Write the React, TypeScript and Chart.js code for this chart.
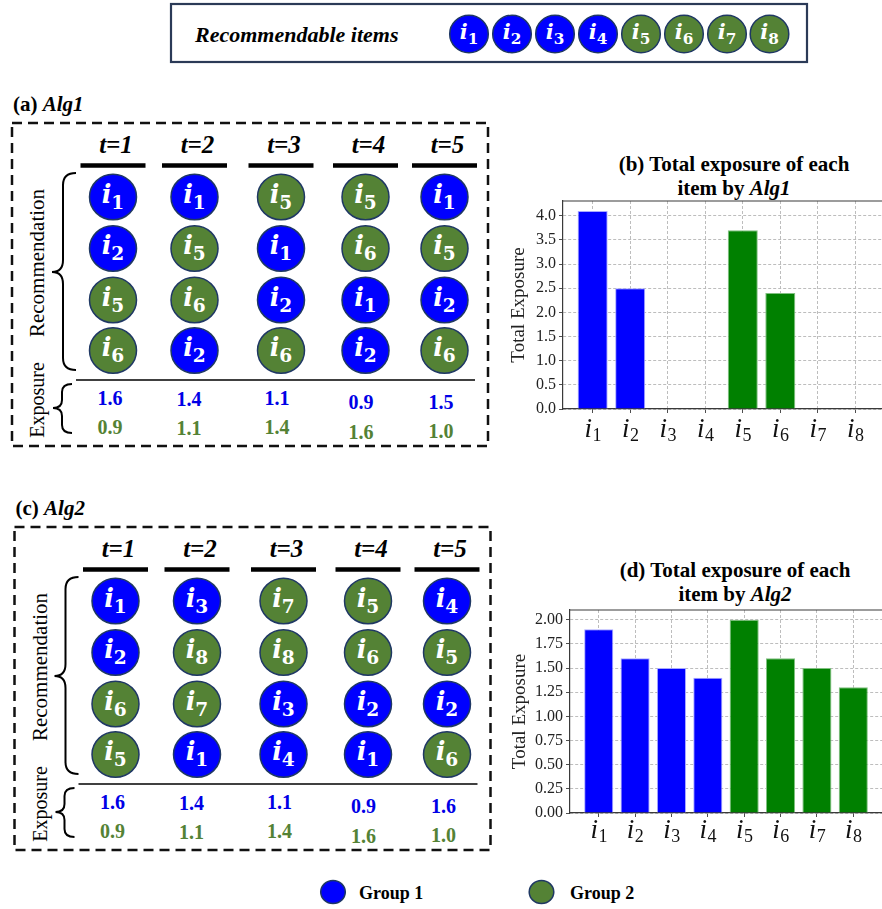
import React, { useEffect, useRef } from 'react';
import { Chart, registerables } from 'chart.js';

Chart.register(...registerables);

// ---- data -------------------------------------------------------------
const ITEM_IDS = [1, 2, 3, 4, 5, 6, 7, 8];
const GROUP_OF_ITEM = [1, 1, 1, 1, 2, 2, 2, 2];
const STEPS = ['t=1', 't=2', 't=3', 't=4', 't=5'];

// recommended slates per round (top to bottom)
const ALG1_SLATES = [[1, 2, 5, 6], [1, 5, 6, 2], [5, 1, 2, 6], [5, 6, 1, 2], [1, 5, 2, 6]];
const ALG1_GROUP1_EXPOSURE = [1.6, 1.4, 1.1, 0.9, 1.5];
const ALG1_GROUP2_EXPOSURE = [0.9, 1.1, 1.4, 1.6, 1.0];

const ALG2_SLATES = [[1, 2, 6, 5], [3, 8, 7, 1], [7, 8, 3, 4], [5, 6, 2, 1], [4, 5, 2, 6]];
const ALG2_GROUP1_EXPOSURE = [1.6, 1.4, 1.1, 0.9, 1.6];
const ALG2_GROUP2_EXPOSURE = [0.9, 1.1, 1.4, 1.6, 1.0];

// total exposure per item
const ALG1_TOTAL = [4.1, 2.5, 0, 0, 3.7, 2.4, 0, 0];
const ALG2_TOTAL = [1.9, 1.6, 1.5, 1.4, 2.0, 1.6, 1.5, 1.3];
const ALG1_Y_TICKS = [0, 0.5, 1.0, 1.5, 2.0, 2.5, 3.0, 3.5, 4.0];
const ALG2_Y_TICKS = [0, 0.25, 0.5, 0.75, 1.0, 1.25, 1.5, 1.75, 2.0];

// ---- styling ----------------------------------------------------------
const BLUE_FILL = '#0000ff';
const GREEN_FILL = '#548235';
const RING = '#1f3864';
const BLUE_TEXT = '#0000e6';
const GREEN_TEXT = '#548235';
const BAR_BLUE = '#0000ff';
const BAR_GREEN = '#008000';
const SERIF = "'Liberation Serif', 'Times New Roman', serif";
const BADGE_FONT = "'DejaVu Serif', serif";

function Badge({ cx, cy, r, item }: { cx: number; cy: number; r: number; item: number }) {
  const fill = GROUP_OF_ITEM[item - 1] === 1 ? BLUE_FILL : GREEN_FILL;
  const k = r / 24;
  return (
    <g>
      <ellipse cx={cx} cy={cy} rx={r} ry={r * 0.97} fill={fill} stroke={RING} strokeWidth={1.5} />
      <text x={cx} y={cy + 6 * k} textAnchor="middle" fill="#fff" fontFamily={BADGE_FONT} fontWeight="bold">
        <tspan fontStyle="italic" fontSize={26 * k}>i</tspan>
        <tspan fontSize={19 * k} dy={6 * k}>{item}</tspan>
      </text>
    </g>
  );
}

function bracePath(endX: number, spineX: number, tipX: number, top: number, tipY: number, bottom: number) {
  const r = Math.min(12, (tipY - top) / 3);
  return `M${endX},${top} Q${spineX},${top} ${spineX},${top + r} L${spineX},${tipY - r} Q${spineX},${tipY} ${tipX},${tipY} ` +
    `Q${spineX},${tipY} ${spineX},${tipY + r} L${spineX},${bottom - r} Q${spineX},${bottom} ${endX},${bottom}`;
}

// one "(x) AlgN" schedule panel; dx/dy shift the whole block
function SchedulePanel({ dx, dy, tag, alg, slates, g1, g2 }: {
  dx: number; dy: number; tag: string; alg: string; slates: number[][]; g1: number[]; g2: number[];
}) {
  const colX = [113, 194.5, 281, 365.5, 444.5];
  const rowY = [197, 248.5, 300, 350.5];
  const valueX = [110, 189, 277, 361, 441];
  const blueY = [398, 399, 398, 402, 402];
  const greenY = [427, 428, 427, 432, 431];
  return (
    <g transform={`translate(${dx},${dy})`}>
      <text x={13} y={111} fontFamily={SERIF} fontSize={21} fontWeight="bold">
        {`(${tag}) `}
        <tspan fontStyle="italic">{alg}</tspan>
      </text>
      <rect x={12} y={123} width={476} height={323} fill="none" stroke="#111" strokeWidth={2.5} strokeDasharray="10 6" />
      {STEPS.map((s, c) => (
        <g key={s}>
          <text x={colX[c] + 3} y={153} textAnchor="middle" fontFamily={SERIF} fontSize={25} fontWeight="bold" fontStyle="italic">{s}</text>
          <line x1={colX[c] - 32.5} x2={colX[c] + 32.5} y1={165.5} y2={165.5} stroke="#000" strokeWidth={4.5} />
          {slates[c].map((item, r) => (
            <Badge key={r} cx={colX[c]} cy={rowY[r]} r={23.5} item={item} />
          ))}
          <text x={valueX[c]} y={blueY[c] + 7} textAnchor="middle" fontFamily={SERIF} fontSize={20} fontWeight="bold" fill={BLUE_TEXT}>{g1[c].toFixed(1)}</text>
          <text x={valueX[c]} y={greenY[c] + 7} textAnchor="middle" fontFamily={SERIF} fontSize={20} fontWeight="bold" fill={GREEN_TEXT}>{g2[c].toFixed(1)}</text>
        </g>
      ))}
      <line x1={76} x2={475} y1={380} y2={380} stroke="#000" strokeWidth={1.6} />
      <path d={bracePath(76, 63, 52, 173, 272, 370)} fill="none" stroke="#000" strokeWidth={2} />
      <path d={bracePath(72, 62, 53, 384, 408, 433)} fill="none" stroke="#000" strokeWidth={2} />
      <text transform="translate(37,263) rotate(-90)" textAnchor="middle" dominantBaseline="central" fontFamily={SERIF} fontSize={21}>Recommendation</text>
      <text transform="translate(37,400) rotate(-90)" textAnchor="middle" dominantBaseline="central" fontFamily={SERIF} fontSize={20}>Exposure</text>
    </g>
  );
}

function ChartTitle({ cx, y, tag, alg }: { cx: number; y: number; tag: string; alg: string }) {
  return (
    <g fontFamily={SERIF} fontSize={21} fontWeight="bold">
      <text x={cx} y={y} textAnchor="middle">{`(${tag}) Total exposure of each`}</text>
      <text x={cx} y={y + 24} textAnchor="middle">
        {'item by '}
        <tspan fontStyle="italic">{alg}</tspan>
      </text>
    </g>
  );
}

type ChartProps = {
  values: number[]; yTicks: number[]; decimals: number;
  left: number; top: number; width: number; height: number;
  padding: { top: number; right: number; bottom: number; left: number };
  yAxisWidth: number; labelDrop: number; titleX: number;
};

function TotalExposureChart(p: ChartProps) {
  const ref = useRef<HTMLCanvasElement>(null);
  useEffect(() => {
    const canvas = ref.current;
    if (!canvas) return;
    const n = p.values.length;
    const span = n - 1 + 0.8;
    const xMin = -0.4 - 0.05 * span;
    const xMax = n - 1 + 0.4 + 0.05 * span;
    const yMax = Math.max(...p.values) * 1.05;

    const decorations = {
      id: 'decorations',
      afterDraw(chart: any) {
        const { ctx, chartArea } = chart;
        const xs = chart.scales.x;
        ctx.save();
        // top spine
        ctx.strokeStyle = '#3a3a3a';
        ctx.lineWidth = 1.2;
        ctx.beginPath();
        ctx.moveTo(chartArea.left, chartArea.top);
        ctx.lineTo(chartArea.right, chartArea.top);
        ctx.stroke();
        // item labels i_k
        ctx.fillStyle = '#111';
        ctx.textBaseline = 'alphabetic';
        ctx.textAlign = 'left';
        ITEM_IDS.forEach((id, i) => {
          const px = xs.getPixelForValue(i);
          ctx.font = `italic 27px ${SERIF}`;
          const iw = ctx.measureText('i').width;
          ctx.font = `18px ${SERIF}`;
          const sw = ctx.measureText(String(id)).width;
          const x0 = px - (iw + sw) / 2;
          const base = chartArea.bottom + p.labelDrop;
          ctx.font = `italic 27px ${SERIF}`;
          ctx.fillText('i', x0, base);
          ctx.font = `18px ${SERIF}`;
          ctx.fillText(String(id), x0 + iw + 0.5, base + 4);
        });
        // y axis title
        ctx.translate(p.titleX, (chartArea.top + chartArea.bottom) / 2);
        ctx.rotate(-Math.PI / 2);
        ctx.textAlign = 'center';
        ctx.textBaseline = 'middle';
        ctx.font = `19px ${SERIF}`;
        ctx.fillStyle = '#222';
        ctx.fillText('Total Exposure', 0, 0);
        ctx.restore();
      },
    };

    const chart = new Chart(canvas, {
      type: 'bar',
      data: {
        datasets: [{
          data: p.values.map((v, i) => ({ x: i, y: v })),
          backgroundColor: GROUP_OF_ITEM.map((g) => (g === 1 ? BAR_BLUE : BAR_GREEN)),
          borderColor: GROUP_OF_ITEM.map((g) => (g === 1 ? '#a8a8ff' : '#80c080')),
          borderWidth: 1,
          categoryPercentage: 0.8,
          barPercentage: 1,
        }],
      },
      options: {
        animation: false,
        responsive: false,
        maintainAspectRatio: false,
        devicePixelRatio: 1,
        layout: { padding: p.padding },
        plugins: { legend: { display: false }, tooltip: { enabled: false }, title: { display: false } },
        scales: {
          x: {
            type: 'linear',
            min: xMin,
            max: xMax,
            offset: false,
            afterBuildTicks: (s: any) => { s.ticks = ITEM_IDS.map((_, i) => ({ value: i })); },
            afterFit: (s: any) => { s.height = 40; s.paddingLeft = 0; s.paddingRight = 0; },
            ticks: { callback: () => '', autoSkip: false, maxRotation: 0 },
            grid: { offset: false, color: '#b5b5b5', lineWidth: 0.9, tickLength: 4, tickColor: '#3a3a3a', tickBorderDash: [] },
            border: { color: '#3a3a3a', width: 1.2, dash: [3, 2] },
          },
          y: {
            type: 'linear',
            min: 0,
            max: yMax,
            afterBuildTicks: (s: any) => { s.ticks = p.yTicks.map((v) => ({ value: v })); },
            afterFit: (s: any) => { s.width = p.yAxisWidth; s.paddingTop = 0; s.paddingBottom = 0; },
            ticks: {
              callback: (v: any) => Number(v).toFixed(p.decimals),
              font: { family: SERIF, size: 16 },
              color: '#222',
              padding: 3,
              autoSkip: false,
            },
            grid: { color: '#b5b5b5', lineWidth: 0.9, tickLength: 4, tickColor: '#3a3a3a', tickBorderDash: [] },
            border: { color: '#3a3a3a', width: 1.2, dash: [3, 2] },
          },
        },
      },
      plugins: [decorations],
    } as any);
    return () => chart.destroy();
  }, []);
  return (
    <canvas
      ref={ref}
      width={p.width}
      height={p.height}
      style={{ position: 'absolute', left: p.left, top: p.top, width: p.width, height: p.height }}
    />
  );
}

export default function App() {
  const legendX = [469, 512, 555, 598, 641, 684, 727, 769.5];
  return (
    <div style={{ position: 'fixed', left: 0, top: 0, width: 882, height: 909, overflow: 'hidden', background: '#fff' }}>
      <svg width={882} height={909} style={{ position: 'absolute', left: 0, top: 0 }}>
        {/* item legend */}
        <rect x={171} y={4} width={636} height={58} fill="#fff" stroke="#2b3a57" strokeWidth={2.2} />
        <text x={195} y={42} fontFamily={SERIF} fontSize={22} fontWeight="bold" fontStyle="italic">Recommendable items</text>
        {ITEM_IDS.map((id, i) => (
          <Badge key={id} cx={legendX[i]} cy={34} r={19.3} item={id} />
        ))}

        <SchedulePanel dx={0} dy={0} tag="a" alg="Alg1" slates={ALG1_SLATES} g1={ALG1_GROUP1_EXPOSURE} g2={ALG1_GROUP2_EXPOSURE} />
        <SchedulePanel dx={2.5} dy={404} tag="c" alg="Alg2" slates={ALG2_SLATES} g1={ALG2_GROUP1_EXPOSURE} g2={ALG2_GROUP2_EXPOSURE} />

        <ChartTitle cx={734} y={171} tag="b" alg="Alg1" />
        <ChartTitle cx={735} y={577} tag="d" alg="Alg2" />

        {/* group legend */}
        <ellipse cx={333} cy={892} rx={12.3} ry={11.5} fill={BLUE_FILL} stroke={RING} strokeWidth={1.5} />
        <text x={359} y={899} fontFamily={SERIF} fontSize={18} fontWeight="bold">Group 1</text>
        <ellipse cx={541.5} cy={892} rx={12.3} ry={11.5} fill={GREEN_FILL} stroke={RING} strokeWidth={1.5} />
        <text x={570} y={899} fontFamily={SERIF} fontSize={18} fontWeight="bold">Group 2</text>
      </svg>

      <TotalExposureChart
        values={ALG1_TOTAL} yTicks={ALG1_Y_TICKS} decimals={1}
        left={500} top={195} width={400} height={260}
        padding={{ top: 6, right: 15, bottom: 6, left: 0 }}
        yAxisWidth={63} labelDrop={28} titleX={19.5}
      />
      <TotalExposureChart
        values={ALG2_TOTAL} yTicks={ALG2_Y_TICKS} decimals={2}
        left={500} top={600} width={400} height={260}
        padding={{ top: 10, right: 18, bottom: 7, left: 0 }}
        yAxisWidth={70} labelDrop={25} titleX={20.5}
      />
    </div>
  );
}
